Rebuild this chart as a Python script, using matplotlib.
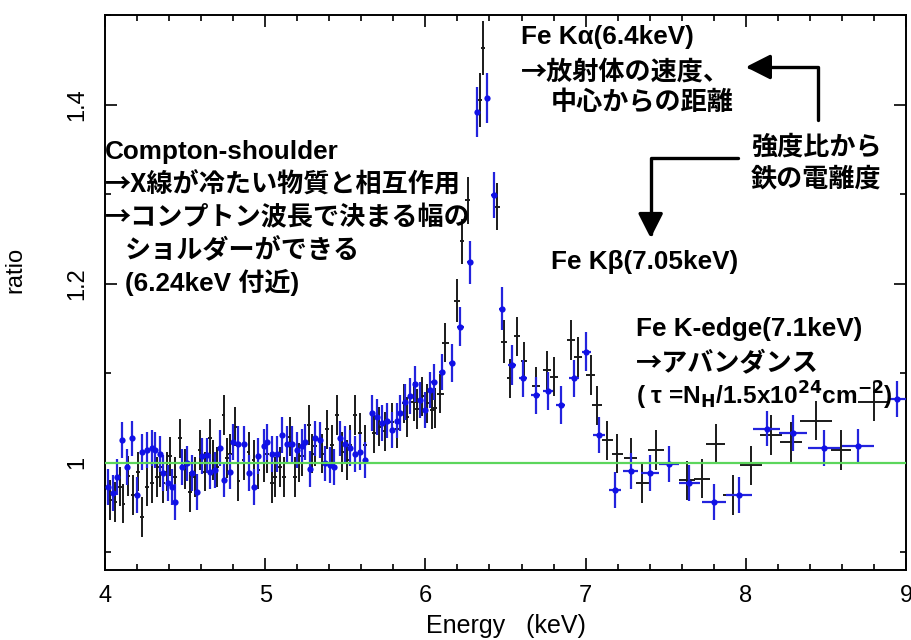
import matplotlib
matplotlib.use("Agg")
import matplotlib.pyplot as plt
from matplotlib.ticker import MultipleLocator

# ---- spectrum ratio data (energy in keV) ----
blue_energy = [
    4.021, 4.052, 4.073, 4.104, 4.135, 4.167, 4.198, 4.229, 4.260, 4.292,
    4.313, 4.344, 4.365, 4.396, 4.417, 4.438, 4.479, 4.510, 4.542, 4.573,
    4.604, 4.635, 4.656, 4.688, 4.719, 4.740, 4.781, 4.802, 4.833, 4.865,
    4.896, 4.927, 4.958, 4.990, 5.010, 5.042, 5.073, 5.104, 5.135, 5.167,
    5.198, 5.229, 5.250, 5.281, 5.313, 5.344, 5.375, 5.406, 5.427, 5.469,
    5.500, 5.531, 5.563, 5.594, 5.625, 5.667, 5.698, 5.729, 5.760, 5.792,
    5.823, 5.844, 5.875, 5.906, 5.938, 5.969, 6.000, 6.031, 6.052, 6.104,
    6.167, 6.219, 6.277, 6.323, 6.385, 6.427, 6.479, 6.540, 6.612, 6.688,
    6.765, 6.844, 6.927, 7.005, 7.083, 7.183, 7.281, 7.403, 7.521, 7.646,
    7.800, 7.958, 8.130, 8.295, 8.490, 8.698, 8.945,
]
blue_ratio = [
    0.973, 0.966, 0.984, 1.025, 0.995, 1.027, 0.964, 1.012, 1.014, 1.016,
    1.014, 1.010, 0.988, 0.977, 0.973, 0.956, 0.995, 0.999, 0.988, 0.967,
    1.007, 1.008, 0.990, 0.992, 1.016, 0.981, 0.990, 1.023, 1.021, 1.021,
    0.988, 0.973, 1.007, 1.018, 1.023, 1.010, 1.010, 1.031, 1.021, 1.021,
    1.014, 1.018, 1.023, 0.993, 1.027, 1.025, 0.999, 0.997, 0.995, 1.027,
    1.021, 1.016, 1.010, 1.012, 1.003, 1.055, 1.051, 1.044, 1.047, 1.036,
    1.047, 1.055, 1.068, 1.074, 1.088, 1.070, 1.059, 1.081, 1.090, 1.101,
    1.111, 1.152, 1.224, 1.392, 1.407, 1.299, 1.172, 1.109, 1.094, 1.075,
    1.080, 1.064, 1.094, 1.124, 1.031, 0.969, 0.991, 0.988, 0.998, 0.977,
    0.956, 0.964, 1.038, 1.033, 1.016, 1.018, 1.071,
]
blue_err = [
    0.020, 0.020, 0.020, 0.020, 0.020, 0.020, 0.020, 0.020, 0.020, 0.020,
    0.020, 0.020, 0.020, 0.020, 0.020, 0.020, 0.020, 0.020, 0.020, 0.020,
    0.020, 0.020, 0.020, 0.020, 0.020, 0.020, 0.020, 0.020, 0.020, 0.020,
    0.020, 0.020, 0.020, 0.020, 0.020, 0.020, 0.020, 0.020, 0.020, 0.020,
    0.020, 0.020, 0.020, 0.020, 0.020, 0.020, 0.020, 0.020, 0.020, 0.020,
    0.020, 0.020, 0.020, 0.020, 0.020, 0.020, 0.020, 0.020, 0.020, 0.020,
    0.020, 0.020, 0.020, 0.020, 0.020, 0.020, 0.020, 0.020, 0.020, 0.020,
    0.021, 0.022, 0.024, 0.028, 0.028, 0.026, 0.024, 0.022, 0.021, 0.021,
    0.021, 0.021, 0.021, 0.022, 0.020, 0.020, 0.020, 0.020, 0.020, 0.020,
    0.020, 0.020, 0.020, 0.020, 0.020, 0.020, 0.020,
]
blue_halfwidth = [
    0.012, 0.012, 0.012, 0.012, 0.012, 0.012, 0.012, 0.012, 0.012, 0.012,
    0.012, 0.012, 0.012, 0.012, 0.012, 0.012, 0.012, 0.012, 0.012, 0.012,
    0.012, 0.012, 0.012, 0.012, 0.012, 0.012, 0.012, 0.012, 0.012, 0.012,
    0.012, 0.012, 0.012, 0.012, 0.012, 0.012, 0.012, 0.012, 0.012, 0.012,
    0.012, 0.012, 0.012, 0.012, 0.012, 0.012, 0.012, 0.012, 0.012, 0.012,
    0.012, 0.012, 0.012, 0.012, 0.012, 0.013, 0.013, 0.013, 0.013, 0.013,
    0.013, 0.013, 0.014, 0.014, 0.014, 0.014, 0.015, 0.015, 0.015, 0.020,
    0.020, 0.020, 0.020, 0.015, 0.015, 0.015, 0.020, 0.025, 0.025, 0.030,
    0.030, 0.030, 0.030, 0.030, 0.035, 0.040, 0.045, 0.055, 0.060, 0.065,
    0.075, 0.080, 0.085, 0.085, 0.100, 0.100, 0.060,
]

black_energy = [
    4.031, 4.063, 4.094, 4.115, 4.146, 4.177, 4.208, 4.229, 4.260, 4.292,
    4.323, 4.344, 4.365, 4.385, 4.406, 4.438, 4.469, 4.500, 4.531, 4.563,
    4.594, 4.625, 4.656, 4.677, 4.698, 4.740, 4.760, 4.781, 4.813, 4.833,
    4.865, 4.896, 4.927, 4.958, 4.990, 5.010, 5.042, 5.063, 5.094, 5.115,
    5.156, 5.188, 5.208, 5.229, 5.271, 5.292, 5.313, 5.354, 5.385, 5.417,
    5.448, 5.479, 5.510, 5.531, 5.563, 5.594, 5.625, 5.677, 5.708, 5.750,
    5.792, 5.823, 5.865, 5.885, 5.927, 5.948, 5.979, 6.010, 6.042, 6.060,
    6.094, 6.125, 6.198, 6.229, 6.265, 6.340, 6.360, 6.448, 6.490, 6.527,
    6.573, 6.615, 6.690, 6.760, 6.800, 6.906, 6.950, 7.031, 7.073, 7.135,
    7.198, 7.281, 7.354, 7.438, 7.635, 7.729, 7.813, 7.917, 8.031, 8.156,
    8.281, 8.438, 8.594, 8.800,
]
black_ratio = [
    0.958, 0.956, 0.973, 0.954, 0.985, 0.964, 0.990, 0.939, 0.973, 0.977,
    0.984, 0.995, 0.977, 0.990, 1.007, 0.984, 1.027, 0.993, 0.967, 0.984,
    1.014, 0.990, 1.027, 1.003, 0.995, 1.053, 1.005, 1.010, 1.040, 0.979,
    1.003, 1.012, 1.003, 0.992, 1.000, 1.010, 0.977, 0.984, 0.995, 0.984,
    1.029, 0.984, 1.000, 1.007, 1.042, 1.010, 1.018, 1.010, 1.037, 1.020,
    1.053, 1.012, 1.003, 1.020, 1.053, 1.033, 1.020, 1.033, 1.040, 1.035,
    1.045, 1.038, 1.066, 1.051, 1.068, 1.060, 1.074, 1.066, 1.059, 1.061,
    1.077, 1.134, 1.181, 1.247, 1.293, 1.405, 1.463, 1.286, 1.135, 1.094,
    1.141, 1.113, 1.085, 1.103, 1.096, 1.137, 1.118, 1.098, 1.064, 1.025,
    1.010, 1.005, 0.977, 1.014, 0.980, 0.982, 1.021, 0.964, 0.997, 1.031,
    1.023, 1.047, 1.014, 1.068,
]
black_err = [
    0.022, 0.022, 0.022, 0.022, 0.022, 0.022, 0.022, 0.022, 0.022, 0.022,
    0.022, 0.022, 0.022, 0.022, 0.022, 0.022, 0.022, 0.022, 0.022, 0.022,
    0.022, 0.022, 0.022, 0.022, 0.022, 0.022, 0.022, 0.022, 0.022, 0.022,
    0.022, 0.022, 0.022, 0.022, 0.022, 0.022, 0.022, 0.022, 0.022, 0.022,
    0.022, 0.022, 0.022, 0.022, 0.022, 0.022, 0.022, 0.022, 0.022, 0.022,
    0.022, 0.022, 0.022, 0.022, 0.022, 0.022, 0.022, 0.022, 0.022, 0.022,
    0.022, 0.022, 0.022, 0.022, 0.022, 0.022, 0.022, 0.022, 0.022, 0.022,
    0.022, 0.022, 0.024, 0.025, 0.026, 0.030, 0.030, 0.026, 0.024, 0.022,
    0.022, 0.022, 0.022, 0.022, 0.022, 0.022, 0.022, 0.022, 0.022, 0.022,
    0.022, 0.022, 0.022, 0.022, 0.022, 0.022, 0.022, 0.022, 0.022, 0.022,
    0.022, 0.022, 0.022, 0.022,
]
black_halfwidth = [
    0.012, 0.012, 0.012, 0.012, 0.012, 0.012, 0.012, 0.012, 0.012, 0.012,
    0.012, 0.012, 0.012, 0.012, 0.012, 0.012, 0.012, 0.012, 0.012, 0.012,
    0.012, 0.012, 0.012, 0.012, 0.012, 0.012, 0.012, 0.012, 0.012, 0.012,
    0.012, 0.012, 0.012, 0.012, 0.012, 0.012, 0.012, 0.012, 0.012, 0.012,
    0.012, 0.012, 0.012, 0.012, 0.012, 0.012, 0.012, 0.012, 0.012, 0.012,
    0.012, 0.012, 0.012, 0.012, 0.012, 0.012, 0.012, 0.013, 0.013, 0.013,
    0.013, 0.013, 0.014, 0.014, 0.014, 0.014, 0.015, 0.015, 0.015, 0.015,
    0.020, 0.020, 0.020, 0.015, 0.015, 0.015, 0.015, 0.020, 0.020, 0.020,
    0.020, 0.020, 0.025, 0.025, 0.025, 0.025, 0.025, 0.030, 0.030, 0.035,
    0.035, 0.040, 0.040, 0.050, 0.050, 0.050, 0.060, 0.060, 0.070, 0.070,
    0.070, 0.100, 0.060, 0.100,
]

x_ticks = [4, 5, 6, 7, 8, 9]
x_ticklabels = ["4", "5", "6", "7", "8", "9"]
y_ticks = [1.0, 1.2, 1.4]
y_ticklabels = ["1", "1.2", "1.4"]

plt.rcParams["font.family"] = ["Liberation Sans", "DejaVu Sans"]

fig = plt.figure(figsize=(9.12, 6.4), dpi=100)
ax = fig.add_axes([105 / 912, 70 / 640, 801 / 912, 555 / 640])

ax.set_xlim(4, 9)
ax.set_ylim(0.88, 1.5)

# unity reference line
ax.axhline(1.0, color="#5cd65c", lw=1.6, zorder=4)

ax.errorbar(black_energy, black_ratio, yerr=black_err, xerr=black_halfwidth,
            fmt="none", ecolor="#1a1a1a", elinewidth=1.4, capsize=0, zorder=2)
ax.errorbar(blue_energy, blue_ratio, yerr=blue_err, xerr=blue_halfwidth,
            fmt="o", color="#1010e6", ecolor="#2323dd", ms=4.5, mew=0,
            elinewidth=1.6, capsize=0, zorder=3)

# axes styling
ax.set_xticks(x_ticks)
ax.set_xticklabels(x_ticklabels)
ax.set_yticks(y_ticks)
ax.set_yticklabels(y_ticklabels, rotation=90, va="center")
ax.xaxis.set_minor_locator(MultipleLocator(0.2))
ax.yaxis.set_minor_locator(MultipleLocator(0.1))
ax.tick_params(which="both", direction="in", top=True, right=True, width=1.2)
ax.tick_params(which="major", length=8.5, labelsize=17)
ax.tick_params(axis="x", which="major", pad=11)
ax.tick_params(axis="y", which="major", pad=12)
ax.tick_params(which="minor", length=4.3)
for sp in ax.spines.values():
    sp.set_linewidth(1.4)

ax.set_xlabel("Energy   (keV)", fontsize=18, labelpad=5)
ax.set_ylabel("ratio", fontsize=17)
ax.yaxis.set_label_coords(-0.098, 0.54)

# annotation text: Latin glyphs from a Helvetica-like face, kana/kanji fallback
jp = dict(family=["Liberation Sans", "Noto Sans CJK JP"], fontweight="bold",
          fontsize=18.8, va="center", ha="left", zorder=6)
# lines that start with a full-width arrow
jpa = dict(jp, family=["Noto Sans CJK JP", "Liberation Sans"])

ax.text(4.0, 1.347, "Compton-shoulder", **jp)
ax.text(4.0, 1.310, "→X線が冷たい物質と相互作用", **jpa)
ax.text(4.0, 1.273, "→コンプトン波長で決まる幅の", **jpa)
ax.text(4.125, 1.237, "ショルダーができる", **jp)
ax.text(4.125, 1.201, "(6.24keV 付近)", **jp)

ax.text(6.594, 1.4754, "Fe Kα(6.4keV)", **jp)
ax.text(6.594, 1.436, "→放射体の速度、", **jpa)
ax.text(6.781, 1.403, "中心からの距離", **jp)

ax.text(8.031, 1.3525, "強度比から", **jp)
ax.text(8.031, 1.316, "鉄の電離度", **jp)

ax.text(6.781, 1.224, "Fe Kβ(7.05keV)", **jp)

ax.text(7.3125, 1.149, "Fe K-edge(7.1keV)", **jp)
ax.text(7.3125, 1.111, "→アバンダンス", **jpa)
ax.text(7.3125, 1.075,
        r"( τ =N$_\mathbf{H}$/1.5x10$^\mathbf{24}$cm$^\mathbf{-2}$)",
        **dict(jp, fontsize=17.6))

# bent arrows from the intensity-ratio note
arrow = dict(arrowstyle="-|>,head_length=0.75,head_width=0.38",
             color="black", lw=2.4, mutation_scale=20,
             shrinkA=0, shrinkB=0)
ax.annotate("", xy=(8.0, 1.4419), xytext=(8.45, 1.3827),
            arrowprops=dict(connectionstyle="angle,angleA=90,angleB=0,rad=0",
                            **arrow), zorder=6)
ax.annotate("", xy=(7.406, 1.2508), xytext=(7.95, 1.3402),
            arrowprops=dict(connectionstyle="angle,angleA=0,angleB=90,rad=0",
                            **arrow), zorder=6)

fig.savefig("out.png", dpi=100)
